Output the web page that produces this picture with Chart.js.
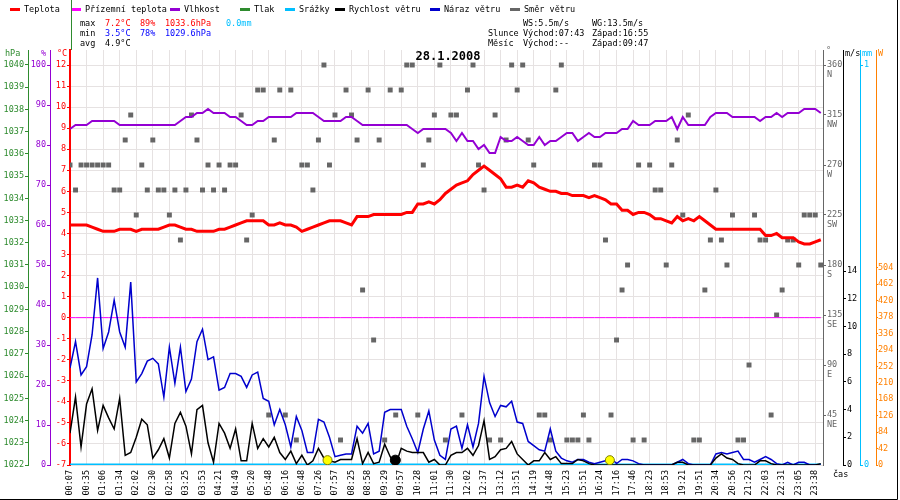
<!DOCTYPE html>
<html>
<head>
<meta charset="utf-8">
<script src="https://cdn.jsdelivr.net/npm/chart.js@4.4.1/dist/chart.umd.min.js"></script>
<style>
html, body { margin: 0; padding: 0; background: #fff; }
#wrap { width: 900px; height: 500px; position: relative; }
</style>
</head>
<body>
<div id="wrap"><canvas id="meteoChart" width="900" height="500"></canvas></div>
<script>
// time labels under the x axis (one every 3 samples)
const timeLabels = ['00:07','00:35','01:06','01:34','02:02','02:30','02:58','03:25','03:53','04:21',
  '04:49','05:20','05:48','06:16','06:48','07:26','07:57','08:25','08:58','09:29',
  '09:57','10:28','11:01','11:30','12:02','12:37','13:12','13:51','14:19','14:48',
  '15:23','15:51','16:24','17:16','17:46','18:23','18:53','19:21','19:51','20:34',
  '20:56','21:23','22:03','22:31','23:05','23:38'];

const temperature = [4.4,4.4,4.4,4.4,4.3,4.2,4.1,4.1,4.1,4.2, 4.2,4.2,4.1,4.2,4.2,4.2,4.2,4.3,4.4,4.4,
  4.3,4.2,4.2,4.1,4.1,4.1,4.1,4.2,4.2,4.3, 4.4,4.5,4.6,4.6,4.6,4.6,4.4,4.4,4.5,4.4,
  4.4,4.3,4.1,4.2,4.3,4.4,
  4.5,4.6,4.6,4.6,4.5,4.4,4.8,4.8,4.8,4.9, 4.9,4.9,4.9,4.9,4.9,5.0,5.0,5.4,5.4,5.5,
  5.4,5.6,5.9,6.1,6.3,6.4,6.5,6.8,7.0,7.2, 7.0,6.8,6.6,6.2,6.2,6.3,6.2,6.5,6.4,6.2,
  6.1,6.0,6.0,5.9,5.9,
  5.8,5.8,5.8,5.7,5.8,5.7,5.6,5.4,5.4,5.1, 5.1,4.9,5.0,5.0,4.9,4.7,4.7,4.6,4.5,4.8,
  4.6,4.7,4.6,4.8,4.6,4.4,4.2,4.2,4.2,4.2, 4.2,4.2,4.2,4.2,4.2,3.9,3.9,4.0,3.8,3.8,
  3.8,3.6,3.5,3.5,3.6,3.7];

const humidity = [84,85,85,85,86,86,86,86,86,85, 85,85,85,85,85,85,85,85,85,85,
  86,87,87,88,88,89,88,88,88,87, 87,86,85,85,86,86,87,87,87,87, 87,88,88,88,88,87,
  86,86,86,86,87,87,86,85,85,85, 85,85,85,85,85,85,84,83,84,84,
  84,84,84,83,81,83,81,81,79,80, 78,78,82,81,81,82,81,80,80,82, 80,81,81,82,83,
  83,81,82,83,82,82,83,83,83,84, 84,86,85,85,85,86,86,86,87,84,
  87,85,85,85,85,87,88,88,88,87, 87,87,87,87,86,87,87,88,87,88, 88,88,89,89,89,88];

const windGust = [7.0,8.9,6.5,7.1,9.4,13.5,8.4,9.6,11.9,9.6, 8.5,13.2,6.0,6.6,7.5,7.7,7.3,4.9,8.5,5.9,
  8.5,5.3,6.2,8.9,9.8,7.6,7.8,5.4,5.6,6.6, 6.6,6.4,5.6,6.5,6.7,4.8,4.6,2.9,4.0,2.9,
  1.3,3.5,2.5,0.9,0.9,3.3,
  3.1,2.0,0.6,0.7,0.8,0.8,2.8,2.3,3.0,0.8, 1.0,3.8,4.0,4.0,4.0,2.8,1.9,0.9,2.6,3.9,
  1.8,0.7,0.4,2.6,2.8,1.2,2.9,1.3,3.0,6.4, 4.5,3.5,4.3,4.2,4.6,3.1,3.0,1.7,1.4,1.1,
  1.0,2.6,1.0,0.5,0.3,
  0.2,0.4,0.4,0.2,0.1,0.2,0.3,0.5,0.1,0.4, 0.4,0.3,0.1,0,0,0,0,0,0,0.2,
  0.4,0.1,0,0,0,0,0.8,0.9,0.8,0.9, 1.0,0.4,0.4,0.2,0.4,0.6,0.4,0.1,0,0.2,
  0,0.2,0.2,0,0,0];

const windSpeed = [2.3,4.9,1.3,4.4,5.5,2.5,4.3,3.4,2.6,4.8, 0.7,0.9,2.0,3.3,2.9,0.5,1.1,1.9,0.5,3.0,
  3.8,2.8,0.8,4.0,4.3,1.6,0.2,3.0,2.3,1.2, 2.6,0.3,0.3,3.0,1.2,1.9,1.3,2.0,0.9,0.4,
  1.0,0.1,0.7,0.0,0.3,1.2,
  0.5,0.3,0.2,0.4,0.4,0.4,1.9,0.1,0.9,0.1, 0.2,1.5,0.6,0.0,1.2,1.0,0.9,0.9,0.9,0.2,
  0.4,0.0,0.0,0.7,0.9,0.9,1.2,0.7,1.4,3.2, 0.4,0.6,1.1,1.2,1.7,0.8,0.4,0.0,0.3,0.3,
  0.9,0.4,0.6,0.1,0.1,
  0.1,0.4,0.3,0.1,0,0,0,0,0,0, 0,0,0,0,0,0,0,0,0,0.2,
  0.2,0,0,0,0,0,0.5,0.8,0.5,0.4, 0.1,0,0,0,0.3,0.3,0.1,0,0,0,
  0,0,0,0,0,0.1];

const windDir = [270,247.5,270,270,270,270,270,270,247.5,247.5, 292.5,315,225,270,247.5,292.5,247.5,247.5,225,247.5,
  202.5,247.5,315,292.5,247.5,270,247.5,270,247.5,270, 270,315,202.5,225,337.5,337.5,45,292.5,337.5,45,
  337.5,22.5,270,270,247.5,292.5,
  360,270,315,22.5,337.5,315,292.5,157.5,337.5,112.5, 292.5,22.5,337.5,45,337.5,360,360,45,270,292.5,
  315,360,22.5,315,315,45,337.5,360,270,247.5, 22.5,315,22.5,292.5,360,337.5,360,292.5,270,45,
  45,22.5,337.5,360,22.5,
  22.5,22.5,45,22.5,270,270,202.5,45,112.5,157.5, 180,22.5,270,22.5,270,247.5,247.5,180,270,292.5,
  225,315,22.5,22.5,157.5,202.5,247.5,202.5,180,225, 22.5,22.5,90,225,202.5,202.5,45,135,157.5,202.5,
  202.5,180,225,225,225,180];

const groundTemp = [0,0,0,0,0,0,0,0,0,0,0,0,0,0,0,0,0,0,0,0,0,0,0,0,0,0,0,0,0,0,0,0,0,0,0,0,0,0,0,0,
  0,0,0,0,0,0,0,0,0,0,0,0,0,0,0,0,0,0,0,0,0,0,0,0,0,0,0,0,0,0,0,0,0,0,0,0,0,0,0,0,
  0,0,0,0,0,0,0,0,0,0,0,0,0,0,0,0,0,0,0,0,0,0,0,0,0,0,0,0,0,0,0,0,0,0,0,0,0,0,0,0,
  0,0,0,0,0,0,0,0,0,0,0,0,0,0,0,0,0];
const rain = [0,0,0,0,0,0,0,0,0,0,0,0,0,0,0,0,0,0,0,0,0,0,0,0,0,0,0,0,0,0,0,0,0,0,0,0,0,0,0,0,
  0,0,0,0,0,0,0,0,0,0,0,0,0,0,0,0,0,0,0,0,0,0,0,0,0,0,0,0,0,0,0,0,0,0,0,0,0,0,0,0,
  0,0,0,0,0,0,0,0,0,0,0,0,0,0,0,0,0,0,0,0,0,0,0,0,0,0,0,0,0,0,0,0,0,0,0,0,0,0,0,0,
  0,0,0,0,0,0,0,0,0,0,0,0,0,0,0,0,0];

const sunEvents = ['07:43', '16:55'];
const moonEvents = ['09:47'];

// axis ticks
const pressTicks = [1022,1023,1024,1025,1026,1027,1028,1029,1030,1031,1032,1033,1034,1035,1036,1037,1038,1039,1040];
const humTicks = [0,10,20,30,40,50,60,70,80,90,100];
const tempTicks = [-7,-6,-5,-4,-3,-2,-1,0,1,2,3,4,5,6,7,8,9,10,11,12];
const dirTicks = [45,90,135,180,225,270,315,360];
const dirNames = ['NE','E','SE','S','SW','W','NW','N'];
const windTicks = [0,2,4,6,8,10,12,14];
const rainTicks = [0,1];
const powerTicks = [0,42,84,126,168,210,252,294,336,378,420,462,504];

const FONT = "'DejaVu Sans Mono', monospace";
Chart.defaults.font.family = FONT;
Chart.defaults.font.size = 8.5;

const toMin = t => parseInt(t.slice(0, 2)) * 60 + parseInt(t.slice(3));
function timeToIndex(t) {
    const m = toMin(t);
    for (let k = 0; k < timeLabels.length - 1; k++) {
        const a = toMin(timeLabels[k]), b = toMin(timeLabels[k + 1]);
        if (m >= a && m <= b) return 3 * (k + (m - a) / (b - a));
    }
    return 0;
}
const pts = arr => arr.map((v, i) => ({ x: i, y: v }));
const evPts = arr => arr.map(t => ({ x: timeToIndex(t), y: 0.35 }));

const ticksTo = list => s => { s.ticks = list.map(v => ({ value: v })); };
const GRID = '#e6e2e2';

function sideAxis(pos, weight, min, max, list, color, width, extra) {
    return Object.assign({
        position: pos, weight: weight, min: min, max: max,
        afterBuildTicks: ticksTo(list),
        afterFit: s => { s.width = width; },
        grid: { drawOnChartArea: false, color: color, tickColor: color, tickLength: 3 },
        border: { color: color, width: 1 },
        ticks: { color: color, padding: 1, callback: v => String(v) }
    }, extra || {});
}

const headerPlugin = {
    id: 'header',
    afterDraw(chart) {
        const ctx = chart.ctx;
        ctx.save();
        ctx.font = '8.5px ' + FONT;
        ctx.textBaseline = 'middle';
        ctx.textAlign = 'left';
        // legend
        const legend = [['Teplota', '#ff0000', 10], ['Přízemní teplota', '#ff00ff', 71],
            ['Vlhkost', '#9400d3', 170], ['Tlak', '#2e8b2e', 240], ['Srážky', '#00bfff', 285],
            ['Rychlost větru', '#000000', 335], ['Náraz větru', '#0000cd', 430], ['Směr větru', '#666666', 510]];
        legend.forEach(([txt, col, x]) => {
            ctx.fillStyle = col;
            ctx.fillRect(x, 8, 10, 3);
            ctx.fillStyle = '#000';
            ctx.fillText(txt, x + 14, 9.5);
        });
        const txt = (s, x, y, c) => { ctx.fillStyle = c || '#000'; ctx.fillText(s, x, y); };
        txt('max', 80, 24); txt('7.2°C', 105, 24, '#ff0000'); txt('89%', 140, 24, '#ff0000');
        txt('1033.6hPa', 165, 24, '#ff0000'); txt('0.0mm', 226, 24, '#00bfff');
        txt('min', 80, 34); txt('3.5°C', 105, 34, '#0000ff'); txt('78%', 140, 34, '#0000ff');
        txt('1029.6hPa', 165, 34, '#0000ff');
        txt('avg', 80, 44); txt('4.9°C', 105, 44);
        txt('WS:5.5m/s', 523, 24); txt('WG:13.5m/s', 592, 24);
        txt('Slunce', 488, 34); txt('Východ:07:43', 523, 34); txt('Západ:16:55', 592, 34);
        txt('Měsíc', 488, 44); txt('Východ:--', 523, 44); txt('Západ:09:47', 592, 44);
        // units
        txt('hPa', 5, 54, '#2e8b2e'); txt('%', 41, 54, '#9400d3'); txt('°C', 57, 54, '#ff0000');
        txt('°', 826, 51, '#666666'); txt('m/s', 845, 54); txt('mm', 862, 54, '#00bfff');
        txt('W', 878, 54, '#ff8000'); txt('čas', 833, 475);
        // title
        ctx.font = 'bold 12px ' + FONT;
        ctx.textAlign = 'center';
        txt('28.1.2008', 448, 57);
        // separators and frame
        ctx.strokeStyle = '#2e8b2e';
        ctx.lineWidth = 1;
        ctx.beginPath(); ctx.moveTo(71.5, 0); ctx.lineTo(71.5, 50); ctx.stroke();
        ctx.strokeStyle = '#000';
        ctx.beginPath(); ctx.moveTo(897.5, 0); ctx.lineTo(897.5, 499.5); ctx.lineTo(0, 499.5); ctx.stroke();
        ctx.restore();
    }
};

new Chart(document.getElementById('meteoChart'), {
    type: 'line',
    data: {
        datasets: [
            { label: 'Slunce', data: evPts(sunEvents), yAxisID: 'yW', showLine: false, order: 0,
              pointRadius: 4.5, pointBackgroundColor: '#ffff00', pointBorderColor: '#808000', pointBorderWidth: 1 },
            { label: 'Měsíc', data: evPts(moonEvents), yAxisID: 'yW', showLine: false, order: 0,
              pointRadius: 5, pointBackgroundColor: '#000', pointBorderColor: '#000' },
            { label: 'Teplota', data: pts(temperature), yAxisID: 'yT', borderColor: '#ff0000', borderWidth: 3, order: 1 },
            { label: 'Vlhkost', data: pts(humidity), yAxisID: 'yH', borderColor: '#9400d3', borderWidth: 2, order: 2 },
            { label: 'Rychlost větru', data: pts(windSpeed), yAxisID: 'yW', borderColor: '#000000', borderWidth: 1.5, order: 3 },
            { label: 'Náraz větru', data: pts(windGust), yAxisID: 'yW', borderColor: '#0000cd', borderWidth: 1.5, order: 4 },
            { label: 'Přízemní teplota', data: pts(groundTemp), yAxisID: 'yT', borderColor: '#ff00ff', borderWidth: 1, order: 5 },
            { label: 'Srážky', data: pts(rain), yAxisID: 'yR', borderColor: '#00bfff', borderWidth: 3, order: 6 },
            { label: 'Směr větru', data: pts(windDir), yAxisID: 'yD', showLine: false, order: 7,
              pointStyle: 'rect', pointRadius: 3.5, pointBackgroundColor: '#666666', pointBorderWidth: 0 }
        ]
    },
    options: {
        responsive: false,
        animation: false,
        layout: { padding: { top: 50, left: 0, right: 0, bottom: 0 } },
        elements: { point: { radius: 0 }, line: { tension: 0 } },
        plugins: { legend: { display: false }, tooltip: { enabled: false }, title: { display: false } },
        scales: {
            x: {
                type: 'linear', min: 0, max: 136.4,
                afterBuildTicks: s => { s.ticks = timeLabels.map((_, k) => ({ value: k * 3 })); },
                afterFit: s => { s.height = 35; },
                grid: { color: GRID, drawTicks: false },
                border: { display: false },
                ticks: { autoSkip: false, minRotation: 90, maxRotation: 90, padding: 5, color: '#000',
                         callback: v => timeLabels[Math.round(v / 3)] }
            },
            yT: sideAxis('left', 0, -7, 12.714, tempTicks, '#ff0000', 20, {
                grid: { drawOnChartArea: true, color: GRID, tickColor: '#ff0000', tickLength: 3 },
                border: { color: '#ff0000', width: 2 }
            }),
            yH: sideAxis('left', 1, 0, 103.75, humTicks, '#9400d3', 22),
            yP: sideAxis('left', 2, 1022, 1040.675, pressTicks, '#2e8b2e', 28),
            yD: sideAxis('right', 0, 0, 373.5, dirTicks, '#666666', 20, {
                ticks: { color: '#666666', padding: 1,
                         callback: v => ['', String(v), dirNames[dirTicks.indexOf(v)]] }
            }),
            yW: sideAxis('right', 1, 0, 29.95, windTicks, '#000000', 17),
            yR: sideAxis('right', 2, 0, 1.0375, rainTicks, '#00bfff', 16),
            yX: sideAxis('right', 3, 0, 1060.1, powerTicks, '#ff8000', 24, {
                grid: { drawOnChartArea: false, color: '#ff8000', tickColor: '#ff8000', tickLength: 2 },
                ticks: { color: '#ff8000', padding: 0, callback: v => String(v) }
            })
        }
    },
    plugins: [headerPlugin]
});
</script>
</body>
</html>
